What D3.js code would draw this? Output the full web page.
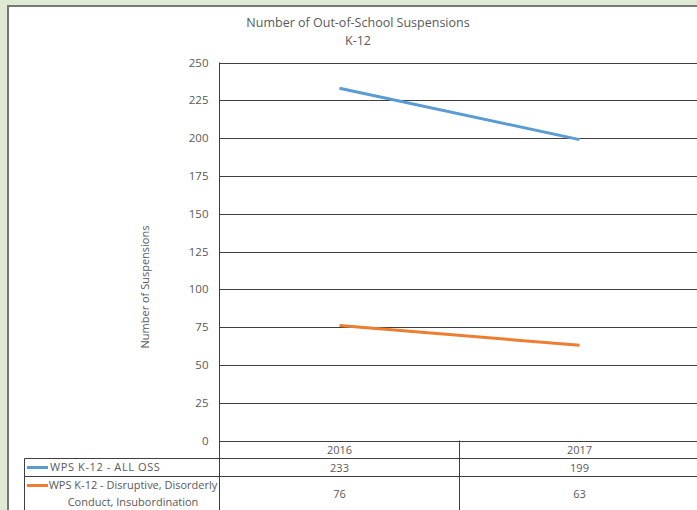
<!DOCTYPE html>
<html>
<head>
<meta charset="utf-8">
<script src="https://d3js.org/d3.v7.min.js"></script>
<style>
    body { margin: 0; padding: 0; background: #dfead5; overflow: hidden; }
    text { font-family: "Open Sans", "Noto Sans", sans-serif; fill: #595959; }
</style>
</head>
<body>
<script>
(function(){

    //pseudo-global variables
    var categories = ["2016", "2017"]; //school years
    var seriesNames = ["WPS K-12 - ALL OSS", "WPS K-12 - Disruptive, Disorderly Conduct, Insubordination"];
    var allOss = [233, 199];
    var disruptive = [76, 63];
    var yTicks = [0, 25, 50, 75, 100, 125, 150, 175, 200, 225, 250];
    var colors = ["#5b9bd5", "#ed7d31"];

    window.onload = setChart();

    function setChart(){
        var width = 697,
            height = 510;

        var svg = d3.select("body")
            .append("svg")
            .attr("width", width)
            .attr("height", height);

        //green page background + white chart panel
        svg.append("rect")
            .attr("width", width)
            .attr("height", height)
            .style("fill", "#dfead5");
        svg.append("rect")
            .attr("x", 8)
            .attr("y", 6)
            .attr("width", width + 20)
            .attr("height", height + 20)
            .style("fill", "#ffffff")
            .style("stroke", "#767676")
            .style("stroke-width", 2);

        //plot frame
        var left = 219.5,
            top = 62.5,
            bottom = 440.5,
            catWidth = 240;

        var x = d3.scaleBand()
            .domain(categories)
            .range([left, left + catWidth * categories.length]);

        var y = d3.scaleLinear()
            .domain([0, 250])
            .range([bottom, top]);

        //gridlines
        svg.append("g")
            .selectAll("line")
            .data(yTicks)
            .enter()
            .append("line")
            .attr("x1", left)
            .attr("x2", width + 5)
            .attr("y1", function(d){ return Math.round(y(d)) + 0.5; })
            .attr("y2", function(d){ return Math.round(y(d)) + 0.5; })
            .style("stroke", "#3f3f3f")
            .style("stroke-width", 1);

        //y axis labels
        var yAxis = d3.axisLeft(y)
            .tickValues(yTicks)
            .tickSize(0)
            .tickPadding(11);
        var axis = svg.append("g")
            .attr("transform", "translate(" + left + ",0)")
            .call(yAxis);
        axis.select(".domain").remove();
        axis.selectAll("text")
            .style("font-family", "'Open Sans', sans-serif")
            .style("font-size", "11.5px")
            .style("fill", "#595959");

        //vertical axis line, running down through the data table
        svg.append("line")
            .attr("x1", left).attr("x2", left)
            .attr("y1", top).attr("y2", height)
            .style("stroke", "#3f3f3f");

        //axis title
        svg.append("text")
            .attr("transform", "translate(149,287) rotate(-90)")
            .attr("text-anchor", "middle")
            .style("font-size", "11px")
            .text("Number of Suspensions");

        //chart title
        svg.append("text")
            .attr("x", 358)
            .attr("y", 27)
            .attr("text-anchor", "middle")
            .style("font-size", "12.5px")
            .text("Number of Out-of-School Suspensions");
        svg.append("text")
            .attr("x", 358)
            .attr("y", 45)
            .attr("text-anchor", "middle")
            .style("font-size", "12.5px")
            .text("K-12");

        //lines
        var line = d3.line()
            .x(function(d, i){ return x(categories[i]) + x.bandwidth() / 2; })
            .y(function(d){ return y(d); });

        [allOss, disruptive].forEach(function(series, s){
            svg.append("path")
                .datum(series)
                .attr("d", line)
                .style("fill", "none")
                .style("stroke", colors[s])
                .style("stroke-width", 3);
        });

        //data table
        var rowTops = [440.5, 458.5, 476.5];
        var tableLeft = 24.5;
        var table = svg.append("g");

        table.append("line")
            .attr("x1", tableLeft).attr("x2", width + 5)
            .attr("y1", rowTops[1]).attr("y2", rowTops[1])
            .style("stroke", "#3f3f3f");
        table.append("line")
            .attr("x1", tableLeft).attr("x2", width + 5)
            .attr("y1", rowTops[2]).attr("y2", rowTops[2])
            .style("stroke", "#3f3f3f");
        table.append("line")
            .attr("x1", tableLeft).attr("x2", tableLeft)
            .attr("y1", rowTops[1]).attr("y2", height)
            .style("stroke", "#3f3f3f");

        //category separators
        table.selectAll(".sep")
            .data(categories.slice(1))
            .enter()
            .append("line")
            .attr("x1", function(d){ return x(d); })
            .attr("x2", function(d){ return x(d); })
            .attr("y1", rowTops[0])
            .attr("y2", height)
            .style("stroke", "#3f3f3f");

        //header row of categories
        table.selectAll(".cat")
            .data(categories)
            .enter()
            .append("text")
            .attr("x", function(d){ return x(d) + x.bandwidth() / 2; })
            .attr("y", rowTops[0] + 13)
            .attr("text-anchor", "middle")
            .style("font-size", "11px")
            .text(function(d){ return d; });

        //value rows
        var rowCenters = [rowTops[1] + 13, 498];
        [allOss, disruptive].forEach(function(series, s){
            table.selectAll(".val" + s)
                .data(series)
                .enter()
                .append("text")
                .attr("x", function(d, i){ return x(categories[i]) + x.bandwidth() / 2; })
                .attr("y", rowCenters[s])
                .attr("text-anchor", "middle")
                .style("font-size", "11px")
                .text(function(d){ return d; });
        });

        //legend keys
        var keyY = [467.5, 485.5];
        keyY.forEach(function(ky, s){
            table.append("line")
                .attr("x1", 27).attr("x2", 48)
                .attr("y1", ky).attr("y2", ky)
                .style("stroke", colors[s])
                .style("stroke-width", 3);
        });

        //legend labels
        table.append("text")
            .attr("x", 50)
            .attr("y", 471)
            .style("font-size", "11px")
            .style("letter-spacing", "0.6px")
            .text(seriesNames[0]);
        table.append("text")
            .attr("x", 133)
            .attr("y", 489)
            .attr("text-anchor", "middle")
            .style("font-size", "11px")
            .text("WPS K-12 - Disruptive, Disorderly");
        table.append("text")
            .attr("x", 133)
            .attr("y", 506)
            .attr("text-anchor", "middle")
            .style("font-size", "11px")
            .text("Conduct, Insubordination");
    };

})();
</script>
</body>
</html>
